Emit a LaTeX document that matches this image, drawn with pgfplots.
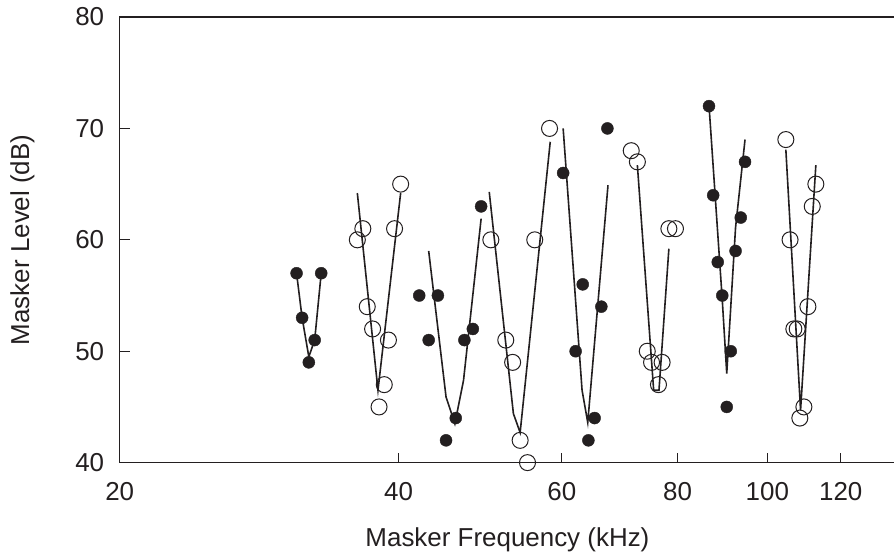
\documentclass[border=0pt]{standalone}
\usepackage{pgfplots}
\pgfplotsset{compat=1.18}
\usepackage{fontspec}
\setmainfont{Liberation Sans}
\usetikzlibrary{calc}
\definecolor{ink}{HTML}{231F20}
\begin{document}
\begin{tikzpicture}
\begin{axis}[
  scale only axis, width=774.5bp, height=445bp,
  xmode=log, log basis x=10,
  xmin=20, xmax=137.4, ymin=40, ymax=80,
  xtick={20,40,60,80,100,120}, xticklabels={20,40,60,80,100,120},
  ytick={40,50,60,70,80},
  axis line style={ink, line width=1.1bp},
  tick pos=left, tick align=inside, major tick length=10bp,
  tick style={ink, line width=1.1bp},
  minor tick num=0,
  /pgf/number format/assume math mode=true,
  font=\fontsize{26}{30}\selectfont\color{ink},
  yticklabel style={xshift=-12bp},
  xticklabel style={yshift=-16bp},
  xlabel={Masker Frequency (kHz)}, ylabel={Masker Level (dB)},
  xlabel style={yshift=-20bp}, ylabel style={yshift=34bp},
  clip=false,
]
% fitted lines
\pgfplotsset{fitline/.style={ink, line width=1.6bp, no markers, sharp plot}}
\addplot[fitline] coordinates {(31.04,57) (31.47,53) (32.0,49.5) (32.47,51) (33.0,57)};
\addplot[fitline] coordinates {(36.1,64.2) (38.0,46.5) (40.2,64.2)};
\addplot[fitline] coordinates {(43.1,59.0) (45.0,45.9) (46.0,43.5) (47.0,47.4) (49.1,61.9)};
\addplot[fitline] coordinates {(50.1,64.3) (53.2,44.4) (54.1,42.7) (58.3,68.8)};
\addplot[fitline] coordinates {(60.2,70.0) (63.1,46.5) (64.0,43.6) (67.3,64.9)};
\addplot[fitline] coordinates {(72.4,66.7) (75.4,46.5) (76.4,46.5) (78.3,59.2)};
\addplot[fitline] coordinates {(86.5,72.1) (89.4,54.6) (90.4,48.0) (92.4,61.1) (94.6,69.0)};
\addplot[fitline] coordinates {(104.7,68.1) (108.6,44.7) (112.8,66.7)};
% filled points
\addplot[only marks, mark=*, mark size=6bp, ink, mark options={fill=ink, draw=ink}] coordinates {
(31.04,57) (31.47,53) (32.0,49) (32.47,51) (33.0,57)
(42.1,55) (44.1,55) (43.1,51) (47.1,51) (48.1,52) (46.1,44) (45.0,42) (49.1,63)
(60.2,66) (67.2,70) (63.2,56) (66.2,54) (62.1,50) (65.1,44) (64.1,42)
(86.5,72) (87.4,64) (88.4,58) (89.4,55) (91.3,50) (90.4,45) (92.4,59) (93.6,62) (94.6,67)
};
% open points
\addplot[only marks, mark=o, mark size=8bp, ink, mark options={line width=1bp, draw=ink}] coordinates {
(40.2,65) (36.6,61) (36.1,60) (39.6,61) (37.0,54) (37.5,52) (39.0,51) (38.6,47) (38.1,45)
(58.2,70) (56.1,60) (50.3,60) (52.2,51) (53.1,49) (54.1,42) (55.1,40)
(71.3,68) (72.4,67) (78.3,61) (79.6,61) (74.2,50) (75.0,49) (77.0,49) (76.3,47)
(104.7,69) (105.8,60) (106.8,52) (107.7,52) (110.6,54) (109.5,45) (108.4,44) (111.8,63) (112.8,65)
};
\end{axis}
\pgfresetboundingbox
\path[use as bounding box] ($(current axis.south west)+(-119.5bp,-94bp)$) rectangle ($(current axis.north east)+(-1.2bp,17bp)$);
\end{tikzpicture}
\end{document}
